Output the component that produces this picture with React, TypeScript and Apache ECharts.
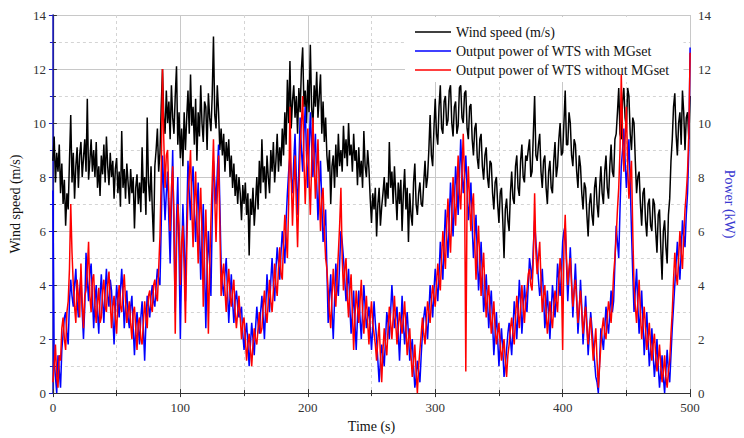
import React, { useEffect, useRef } from "react";
import * as echarts from "echarts";

const TIME_STEP = 1; // seconds between samples
const FONT = "Liberation Serif";

const windSpeed = [
  8.6, 9.5, 7.8, 8.9, 8.2, 9.2, 7.4, 8.5, 7.0, 7.9,
  6.2, 7.4, 6.8, 8.6, 10.3, 7.8, 8.9, 7.2, 8.4, 9.1,
  7.6, 8.8, 9.3, 8.0, 8.7, 9.4, 8.2, 10.9, 7.9, 8.6,
  9.4, 8.2, 9.0, 8.0, 9.3, 7.6, 8.4, 7.3, 8.8, 8.1,
  9.2, 7.8, 9.5, 8.4, 7.7, 8.9, 8.0, 8.6, 7.2, 8.3,
  8.7, 7.4, 8.2, 6.9, 9.7, 7.6, 8.3, 7.2, 8.5, 7.8,
  7.0, 8.3, 7.4, 8.0, 6.1, 7.6, 8.1, 7.0, 7.8, 6.7,
  9.1, 7.4, 8.0, 6.6, 10.2, 7.8, 7.1, 8.4, 6.8, 5.6,
  8.4, 9.0, 9.8, 8.2, 8.9, 10.6, 12.0, 10.2, 9.6, 11.2,
  10.0, 10.8, 9.4, 11.4, 10.2, 9.6, 11.0, 12.1, 9.2, 10.4,
  8.7, 9.8, 8.4, 10.4, 9.0, 10.2, 11.2, 9.6, 11.8, 9.9,
  10.6, 9.2, 10.9, 8.6, 10.4, 9.5, 11.4, 10.0, 9.3, 10.8,
  10.6, 9.0, 11.1, 10.2, 9.7, 11.0, 13.2, 10.3, 9.8, 11.4,
  10.4, 9.0, 9.8, 8.8, 9.6, 8.2, 9.3, 8.6, 9.4, 8.0,
  8.8, 7.6, 8.5, 7.3, 8.1, 7.0, 8.0, 7.4, 6.4, 7.7,
  7.0, 7.8, 6.6, 7.4, 5.1, 7.2, 6.6, 7.6, 6.2, 7.0,
  8.0, 6.8, 8.6, 7.4, 9.4, 7.8, 8.4, 7.2, 8.8, 8.0,
  7.4, 9.0, 8.2, 9.3, 7.8, 8.6, 9.6, 8.2, 9.1, 8.4,
  9.8, 8.8, 10.4, 9.2, 11.6, 10.0, 12.3, 9.8, 10.8, 11.4,
  10.2, 11.0, 9.6, 11.3, 10.4, 12.0, 12.8, 10.6, 11.2, 10.0,
  11.6, 10.4, 12.9, 10.6, 9.8, 11.4, 10.6, 11.9, 10.2, 11.0,
  11.8, 9.6, 10.8, 9.3, 10.2, 8.8, 8.2, 9.0, 7.0, 8.4,
  8.8, 7.6, 9.2, 8.0, 9.6, 8.4, 9.0, 8.2, 9.9, 8.7,
  9.4, 8.4, 10.0, 8.8, 9.2, 8.2, 9.6, 8.6, 9.0, 7.7,
  9.1, 8.0, 8.6, 7.6, 9.7, 8.4, 8.0, 9.0, 8.3, 7.2,
  6.3, 7.4, 6.8, 7.6, 5.8, 7.0, 7.6, 6.2, 6.9, 7.4,
  8.0, 6.9, 7.8, 7.2, 9.3, 7.6, 8.2, 7.0, 8.4, 7.4,
  6.4, 7.8, 7.0, 7.9, 6.0, 7.4, 8.3, 6.8, 7.6, 5.6,
  7.4, 6.6, 6.2, 7.8, 8.5, 7.0, 6.6, 7.4, 7.8, 7.0,
  6.9, 7.8, 8.6, 7.6, 8.0, 9.0, 10.3, 8.8, 8.4, 9.8,
  10.9, 9.6, 9.2, 10.6, 11.4, 9.8, 9.6, 10.8, 11.0, 9.9,
  10.1, 11.2, 11.4, 10.0, 9.5, 10.6, 10.8, 9.6, 9.9, 11.3,
  11.4, 10.2, 10.0, 11.1, 11.2, 9.8, 9.4, 10.6, 10.7, 9.4,
  8.8, 9.8, 10.0, 8.7, 8.3, 9.4, 9.6, 8.4, 7.9, 8.8,
  9.1, 8.0, 7.6, 8.6, 8.5, 7.4, 6.8, 7.8, 8.0, 7.0,
  6.3, 7.4, 7.6, 6.4, 5.0, 6.8, 7.2, 6.4, 6.0, 7.4,
  8.2, 7.2, 7.0, 8.4, 8.8, 7.6, 7.3, 8.6, 9.2, 8.0,
  7.8, 8.8, 8.6, 9.0, 9.4, 8.0, 8.2, 9.6, 11.0, 8.8,
  8.6, 9.2, 9.6, 8.2, 7.6, 8.6, 8.8, 7.6, 7.0, 8.2,
  8.6, 7.6, 7.4, 8.6, 9.3, 8.0, 8.4, 9.4, 10.0, 8.8,
  8.9, 10.0, 11.2, 9.2, 9.2, 10.4, 10.0, 8.8, 8.4, 9.4,
  9.2, 8.2, 7.6, 8.8, 8.4, 7.4, 6.8, 7.8, 7.6, 6.6,
  5.8, 7.0, 7.4, 6.6, 6.2, 7.6, 8.0, 7.0, 6.5, 7.6,
  8.4, 7.4, 7.0, 8.2, 8.8, 7.6, 7.2, 8.4, 9.2, 8.2,
  8.0, 9.4, 9.6, 10.4, 11.3, 9.6, 9.4, 10.8, 11.3, 10.2,
  9.8, 11.3, 11.0, 9.6, 9.0, 10.2, 10.0, 8.6, 7.4, 8.0,
  8.2, 7.0, 6.2, 7.4, 7.6, 6.4, 5.8, 7.0, 7.2, 6.2,
  6.0, 7.2, 7.0, 6.0, 5.2, 6.6, 6.8, 5.4, 4.2, 6.0,
  6.4, 5.4, 4.8, 6.6, 7.2, 8.6, 9.4, 10.6, 11.1, 9.6,
  8.8, 10.0, 10.4, 9.2, 11.2, 10.4, 9.0, 10.2, 10.4, 9.4,
  11.0,
];

const powerWithMG = [
  7.5, 1.2, 0.6, 0.0, 1.4, 0.8, 0.2, 1.6, 2.2, 2.8,
  3.0, 2.2, 1.8, 3.4, 4.2, 3.6, 3.2, 4.0, 4.6, 3.4,
  2.8, 3.8, 4.4, 3.0, 2.0, 3.2, 5.2, 4.2, 3.4, 4.4,
  4.8, 3.6, 2.4, 3.4, 4.0, 3.0, 2.2, 3.6, 4.4, 3.4,
  2.6, 3.8, 4.6, 3.6, 3.2, 4.2, 3.8, 2.8, 1.8, 3.0,
  4.0, 3.4, 2.8, 3.8, 4.6, 3.6, 2.4, 3.2, 3.8, 2.8,
  2.4, 3.2, 3.6, 2.4, 1.4, 2.4, 3.0, 2.4, 1.8, 2.8,
  3.4, 2.4, 1.2, 2.6, 3.6, 3.2, 2.8, 3.6, 4.0, 3.4,
  3.2, 4.0, 4.6, 4.2, 4.0, 6.2, 8.8, 7.6, 6.4, 7.4,
  8.2, 6.4, 4.8, 7.0, 9.0, 5.8, 3.0, 6.4, 8.0, 5.2,
  2.0, 4.8, 7.0, 5.6, 3.4, 6.4, 8.6, 7.4, 6.4, 7.8,
  8.4, 6.8, 5.6, 6.8, 7.8, 6.0, 4.2, 5.8, 7.0, 4.6,
  2.4, 4.6, 6.0, 4.8, 3.6, 6.4, 8.6, 7.8, 7.0, 8.2,
  9.2, 7.0, 4.8, 4.0, 3.6, 4.4, 5.0, 3.8, 2.6, 3.6,
  4.4, 3.4, 2.6, 3.4, 3.8, 3.2, 2.8, 3.0, 3.2, 2.2,
  1.6, 2.2, 2.6, 1.8, 1.0, 1.8, 2.6, 2.0, 1.4, 2.4,
  3.2, 2.6, 2.2, 3.0, 3.6, 2.8, 2.0, 3.2, 4.4, 3.6,
  3.0, 4.2, 5.0, 4.0, 3.4, 4.6, 5.4, 4.8, 4.2, 5.2,
  6.0, 5.4, 4.8, 6.4, 7.4, 8.2, 8.8, 8.0, 7.4, 8.6,
  9.6, 8.0, 6.6, 8.4, 10.2, 9.0, 8.2, 9.6, 10.6, 8.8,
  7.6, 9.0, 10.4, 9.2, 8.0, 8.8, 9.6, 7.8, 6.4, 7.6,
  8.6, 7.0, 5.6, 6.2, 6.8, 4.6, 2.6, 3.6, 4.4, 3.0,
  2.0, 3.4, 4.8, 4.0, 3.6, 4.8, 6.0, 5.6, 5.0, 4.2,
  3.4, 4.0, 4.6, 3.2, 2.2, 3.0, 3.8, 2.6, 1.6, 2.8,
  3.8, 2.8, 2.0, 3.0, 4.0, 3.2, 2.4, 2.8, 3.2, 2.4,
  1.6, 2.4, 3.4, 2.6, 2.0, 1.2, 0.4, 1.2, 1.8, 1.4,
  1.0, 2.0, 3.0, 2.6, 2.0, 3.0, 4.0, 3.2, 2.4, 2.8,
  3.2, 2.2, 1.2, 2.4, 3.6, 2.6, 1.8, 2.4, 3.0, 2.2,
  1.2, 1.6, 2.0, 1.0, 0.2, 0.6, 1.2, 0.8, 0.4, 1.4,
  2.2, 2.8, 3.2, 2.6, 2.0, 3.0, 4.0, 3.4, 2.8, 3.8,
  4.6, 4.0, 3.4, 4.4, 5.6, 4.8, 4.2, 5.6, 6.8, 5.8,
  5.0, 6.4, 7.8, 6.8, 5.8, 7.0, 8.4, 7.6, 6.6, 8.0,
  9.4, 8.2, 7.4, 8.0, 8.8, 7.6, 6.4, 7.0, 7.8, 6.2,
  5.0, 5.8, 6.6, 5.2, 3.8, 4.6, 5.6, 4.4, 3.0, 3.6,
  4.4, 3.4, 2.4, 3.2, 3.8, 2.6, 1.4, 2.2, 3.0, 2.0,
  1.0, 1.8, 2.4, 1.6, 0.6, 1.0, 1.6, 2.2, 2.6, 2.0,
  1.4, 2.4, 3.4, 2.8, 2.0, 3.0, 4.2, 3.4, 2.2, 3.0,
  4.0, 3.4, 3.0, 4.0, 5.0, 4.6, 4.2, 5.4, 6.4, 5.6,
  5.0, 4.2, 3.6, 4.0, 4.6, 3.6, 2.4, 3.0, 3.8, 2.8,
  2.0, 3.0, 4.0, 3.4, 2.8, 3.6, 4.8, 4.2, 3.6, 4.4,
  5.6, 6.0, 6.2, 4.8, 3.4, 4.4, 5.4, 4.2, 2.8, 3.8,
  4.8, 3.6, 2.2, 3.0, 4.2, 3.2, 1.8, 2.6, 3.6, 2.6,
  1.4, 2.2, 3.0, 2.4, 1.8, 1.2, 0.6, 0.4, 0.0, 1.2,
  2.4, 2.0, 1.6, 2.4, 3.2, 2.6, 2.2, 3.0, 3.8, 3.0,
  3.4, 4.8, 6.2, 5.6, 5.0, 6.8, 8.4, 9.0, 9.8, 8.6,
  7.6, 8.4, 9.4, 7.8, 6.0, 4.4, 3.0, 3.8, 4.6, 3.2,
  2.2, 3.0, 3.8, 2.6, 1.4, 2.2, 3.0, 2.0, 1.0, 1.6,
  2.4, 1.4, 0.6, 1.2, 2.0, 1.0, 0.2, 0.8, 1.4, 0.6,
  0.0, 0.8, 1.6, 0.8, 0.4, 1.4, 2.4, 3.2, 4.0, 4.8,
  5.6, 4.8, 4.2, 5.2, 6.4, 5.8, 5.4, 6.6, 7.4, 9.0,
  12.8,
];

const powerWithoutMG = [
  0.4, 1.0, 1.8, 0.6, 0.2, 1.4, 1.2, 2.4, 2.8, 2.0,
  1.6, 3.0, 3.4, 4.6, 7.0, 5.2, 4.0, 3.2, 2.6, 4.2,
  3.6, 2.8, 4.8, 3.4, 2.4, 3.6, 3.8, 4.6, 5.6, 3.6,
  3.0, 4.2, 4.4, 3.2, 2.6, 3.4, 3.9, 2.6, 2.8, 3.8,
  4.2, 3.2, 3.0, 4.0, 4.5, 3.4, 2.4, 3.2, 3.6, 2.8,
  2.2, 3.4, 4.0, 3.2, 3.0, 3.8, 4.4, 3.4, 2.6, 3.0,
  3.4, 2.6, 2.0, 3.0, 3.2, 2.4, 1.6, 2.6, 2.8, 2.0,
  1.8, 2.6, 3.4, 2.8, 2.4, 3.6, 3.8, 3.2, 3.0, 4.0,
  4.2, 3.6, 3.4, 4.6, 5.8, 8.0, 12.0, 9.4, 7.6, 8.8,
  9.0, 7.2, 6.0, 7.6, 8.4, 6.6, 2.2, 5.4, 7.0, 6.2,
  4.0, 5.6, 6.2, 4.6, 2.6, 5.2, 7.4, 8.0, 9.0, 6.8,
  5.4, 7.0, 8.2, 6.4, 4.8, 6.6, 7.6, 5.8, 3.2, 5.4,
  6.8, 4.8, 2.2, 4.6, 6.4, 7.8, 9.4, 7.2, 5.6, 7.4,
  8.8, 6.2, 3.6, 4.4, 4.8, 3.8, 3.0, 4.0, 4.6, 3.6,
  3.2, 3.8, 4.2, 3.0, 2.4, 3.0, 3.6, 2.8, 2.0, 2.6,
  2.8, 2.0, 1.2, 1.8, 2.2, 1.6, 1.0, 1.8, 2.4, 2.0,
  1.8, 2.4, 3.0, 2.2, 2.4, 3.2, 3.8, 3.0, 2.6, 3.4,
  4.2, 3.4, 3.0, 3.8, 4.8, 4.0, 3.6, 4.6, 5.4, 4.4,
  4.2, 5.6, 6.6, 5.8, 5.0, 7.0, 10.6, 8.0, 6.2, 7.6,
  8.8, 7.0, 5.4, 7.4, 9.0, 10.0, 11.0, 8.6, 7.0, 8.4,
  9.8, 8.0, 6.6, 8.4, 10.2, 8.6, 7.2, 8.2, 9.4, 7.6,
  6.0, 7.2, 7.6, 6.0, 5.0, 4.6, 3.8, 3.0, 2.4, 3.6,
  4.6, 3.8, 3.2, 4.2, 5.2, 6.2, 7.6, 5.0, 3.8, 4.6,
  5.0, 3.6, 2.8, 3.8, 4.4, 3.0, 1.6, 2.8, 3.8, 3.2,
  2.6, 3.4, 4.2, 3.0, 2.2, 3.0, 3.6, 2.6, 1.8, 2.8,
  3.4, 2.6, 2.2, 1.8, 1.2, 2.0, 2.6, 1.4, 0.4, 1.6,
  2.4, 1.8, 1.4, 2.4, 3.2, 2.6, 2.0, 2.8, 3.6, 2.6,
  1.8, 2.4, 3.0, 2.6, 2.2, 2.8, 3.4, 2.4, 1.4, 2.0,
  2.4, 1.4, 0.6, 1.2, 1.8, 0.8, 0.0, 1.0, 1.6, 2.2,
  2.8, 2.2, 1.8, 2.6, 3.4, 3.0, 2.6, 3.4, 4.0, 3.6,
  3.2, 4.0, 4.8, 4.2, 3.8, 5.0, 6.0, 5.2, 4.6, 6.2,
  7.2, 6.0, 5.2, 6.6, 8.0, 7.0, 6.2, 7.6, 8.8, 7.4,
  6.8, 8.2, 9.6, 8.0, 0.8, 7.2, 8.4, 7.0, 6.0, 7.0,
  7.4, 5.6, 4.2, 5.4, 6.2, 4.8, 3.6, 4.6, 5.2, 3.8,
  2.8, 3.6, 4.0, 3.0, 2.2, 2.8, 3.4, 2.4, 1.8, 2.2,
  2.6, 1.8, 1.2, 1.6, 2.0, 1.2, 0.6, 1.4, 1.8, 2.4,
  2.8, 2.2, 1.8, 2.8, 3.6, 3.0, 2.4, 3.2, 4.0, 3.2,
  2.6, 3.4, 3.8, 4.4, 4.6, 4.0, 3.8, 5.0, 7.4, 5.2,
  4.4, 5.0, 5.6, 4.2, 3.0, 3.6, 4.0, 3.0, 2.2, 2.8,
  3.4, 2.8, 2.4, 3.2, 3.8, 3.4, 3.0, 4.2, 5.0, 4.4,
  1.6, 5.4, 6.6, 5.0, 4.0, 4.6, 5.0, 4.0, 3.2, 3.8,
  4.2, 3.4, 2.6, 3.2, 3.8, 3.0, 2.2, 2.8, 3.2, 2.4,
  1.8, 2.4, 2.8, 2.0, 1.2, 1.8, 2.4, 1.2, 0.2, 1.0,
  1.8, 2.4, 2.8, 2.2, 2.0, 2.8, 3.4, 3.0, 2.6, 3.4,
  4.4, 5.0, 5.8, 6.8, 7.6, 9.0, 11.8, 9.6, 8.2, 9.4,
  10.6, 8.4, 7.2, 8.0, 8.6, 6.0, 4.0, 3.2, 2.6, 3.4,
  4.2, 3.0, 2.0, 2.6, 3.2, 2.4, 1.6, 2.0, 2.6, 1.8,
  1.2, 1.8, 2.2, 1.4, 0.8, 1.2, 1.8, 1.0, 0.4, 0.8,
  1.4, 0.6, 0.2, 0.8, 1.2, 2.2, 3.0, 4.2, 5.2, 4.4,
  4.0, 5.0, 6.0, 5.2, 4.6, 5.8, 6.8, 7.4, 8.2, 9.6,
  12.6,
];

const seriesNames = [
  "Wind speed (m/s)",
  "Output power of WTS with MGset",
  "Output power of WTS without MGset",
];
const xTitle = "Time (s)";
const yLeftTitle = "Wind speed (m/s)";
const yRightTitle = "Power (kW)";

const toPairs = (arr: number[]) => arr.map((v, i) => [i * TIME_STEP, v]);

export default function App() {
  const ref = useRef<HTMLDivElement>(null);
  useEffect(() => {
    if (!ref.current) return;
    const chart = echarts.init(ref.current, null, { renderer: "svg" });
    const labelStyle = { color: "#333", fontFamily: FONT, fontSize: 13 };
    const gridSplit = { show: true, lineStyle: { color: "#c8c8c8", width: 1 } };
    const gridMinor = { show: true, lineStyle: { color: "#d4d4d4", width: 1, type: [3, 3] } };
    chart.setOption({
      animation: false,
      backgroundColor: "#fff",
      grid: { left: 47, right: 44, top: 15, bottom: 37 },
      legend: {
        orient: "vertical",
        left: 405,
        top: 17,
        padding: [8, 14, 5, 10],
        backgroundColor: "#fff",
        icon: "path://M0,0 L36,0 L36,1.5 L0,1.5 Z",
        itemWidth: 36,
        itemHeight: 14,
        itemGap: 5,
        textStyle: { color: "#111", fontFamily: FONT, fontSize: 14 },
        data: seriesNames,
      },
      xAxis: [
        {
          type: "value",
          min: 0,
          max: 500,
          interval: 100,
          position: "bottom",
          name: xTitle,
          nameLocation: "middle",
          nameGap: 22,
          nameTextStyle: { color: "#111", fontFamily: FONT, fontSize: 14 },
          axisLine: { show: true, lineStyle: { color: "#333", width: 1.2 } },
          axisTick: { show: true, inside: true, length: 4, lineStyle: { color: "#333" } },
          minorTick: { show: true, splitNumber: 2, length: 3, lineStyle: { color: "#333" } },
          axisLabel: { ...labelStyle, margin: 8 },
          splitLine: gridSplit,
          minorSplitLine: gridMinor,
        },
        {
          type: "value",
          min: 0,
          max: 500,
          interval: 100,
          position: "top",
          axisLine: { show: true, lineStyle: { color: "#333", width: 1.2 } },
          axisTick: { show: true, inside: true, length: 4, lineStyle: { color: "#333" } },
          minorTick: { show: true, splitNumber: 2, length: 3, lineStyle: { color: "#333" } },
          axisLabel: { show: false },
          splitLine: { show: false },
        },
      ],
      yAxis: [
        {
          type: "value",
          min: 0,
          max: 14,
          interval: 2,
          position: "left",
          name: yLeftTitle,
          nameLocation: "middle",
          nameGap: 25,
          nameTextStyle: { color: "#111", fontFamily: FONT, fontSize: 14 },
          axisLine: { show: true, lineStyle: { color: "#333", width: 1.2 } },
          axisTick: { show: true, inside: true, length: 4, lineStyle: { color: "#333" } },
          minorTick: { show: true, splitNumber: 2, length: 3, lineStyle: { color: "#333" } },
          axisLabel: { ...labelStyle, margin: 7 },
          splitLine: gridSplit,
          minorSplitLine: gridMinor,
        },
        {
          type: "value",
          min: 0,
          max: 14,
          interval: 2,
          position: "right",
          name: yRightTitle,
          nameLocation: "middle",
          nameGap: 27,
          nameRotate: -90,
          nameTextStyle: { color: "#3a3ad0", fontFamily: FONT, fontSize: 14 },
          axisLine: { show: true, lineStyle: { color: "#1a1ac8", width: 1.5 } },
          axisTick: { show: true, inside: true, length: 4, lineStyle: { color: "#1a1ac8" } },
          minorTick: { show: true, splitNumber: 2, length: 3, lineStyle: { color: "#1a1ac8" } },
          axisLabel: { ...labelStyle, margin: 8 },
          splitLine: { show: false },
        },
      ],
      series: [
        {
          name: seriesNames[0],
          type: "line",
          xAxisIndex: 0,
          yAxisIndex: 0,
          symbol: "none",
          lineStyle: { color: "#000", width: 1.5 },
          itemStyle: { color: "#000" },
          data: toPairs(windSpeed),
          z: 2,
        },
        {
          name: seriesNames[1],
          type: "line",
          xAxisIndex: 0,
          yAxisIndex: 1,
          symbol: "none",
          lineStyle: { color: "#0000ff", width: 1.5 },
          itemStyle: { color: "#0000ff" },
          data: toPairs(powerWithMG),
          z: 3,
        },
        {
          name: seriesNames[2],
          type: "line",
          xAxisIndex: 0,
          yAxisIndex: 1,
          symbol: "none",
          lineStyle: { color: "#ff0000", width: 1.5 },
          itemStyle: { color: "#ff0000" },
          data: toPairs(powerWithoutMG),
          z: 4,
        },
      ],
    });
    return () => chart.dispose();
  }, []);
  return (
    <div
      ref={ref}
      style={{ position: "absolute", left: 0, top: 0, width: 744, height: 438 }}
    />
  );
}
